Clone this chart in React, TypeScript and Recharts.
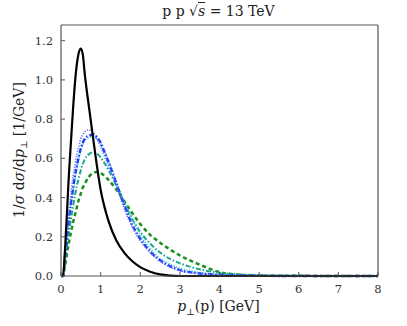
import { LineChart, Line, XAxis, YAxis } from 'recharts';

const xs = [0, 0.05, 0.1, 0.15, 0.2, 0.25, 0.3, 0.35, 0.4, 0.45, 0.5, 0.55, 0.6, 0.7, 0.8, 0.9, 1.0, 1.1, 1.2, 1.4, 1.6, 1.8, 2.0, 2.25, 2.5, 2.75, 3.0, 3.5, 4.0, 4.5, 5.0, 6.0, 7.0, 8.0];

const black = [0, 0, 0.13, 0.32, 0.52, 0.68, 0.84, 0.98, 1.08, 1.14, 1.16, 1.13, 1.03, 0.87, 0.72, 0.57, 0.44, 0.35, 0.28, 0.18, 0.118, 0.075, 0.045, 0.022, 0.008, 0.002, 0, 0, 0, 0, 0, 0, 0, 0];
const blueDot = [0, 0, 0.12, 0.23, 0.33, 0.42, 0.5, 0.56, 0.62, 0.66, 0.7, 0.72, 0.735, 0.745, 0.735, 0.7, 0.66, 0.61, 0.56, 0.46, 0.34, 0.25, 0.18, 0.12, 0.075, 0.045, 0.028, 0.012, 0.005, 0.002, 0.001, 0, 0, 0];
const blueDashDot = [0, 0, 0.1, 0.2, 0.29, 0.37, 0.44, 0.51, 0.56, 0.61, 0.65, 0.68, 0.7, 0.715, 0.72, 0.71, 0.68, 0.63, 0.58, 0.47, 0.36, 0.26, 0.19, 0.125, 0.08, 0.05, 0.03, 0.013, 0.006, 0.003, 0.001, 0, 0, 0];
const cyanDot = [0, 0, 0.09, 0.19, 0.28, 0.36, 0.43, 0.49, 0.55, 0.6, 0.64, 0.67, 0.69, 0.705, 0.71, 0.7, 0.675, 0.635, 0.59, 0.48, 0.38, 0.29, 0.21, 0.14, 0.09, 0.06, 0.04, 0.018, 0.008, 0.004, 0.002, 0.001, 0, 0];
const tealDashDot = [0, 0, 0.07, 0.15, 0.22, 0.29, 0.35, 0.41, 0.46, 0.5, 0.54, 0.57, 0.595, 0.62, 0.63, 0.625, 0.605, 0.575, 0.54, 0.46, 0.37, 0.29, 0.225, 0.165, 0.12, 0.087, 0.065, 0.034, 0.017, 0.008, 0.004, 0.001, 0, 0];
const greenDash = [0, 0, 0.05, 0.11, 0.17, 0.22, 0.27, 0.31, 0.35, 0.39, 0.42, 0.45, 0.47, 0.505, 0.525, 0.53, 0.525, 0.51, 0.49, 0.44, 0.38, 0.32, 0.265, 0.21, 0.17, 0.135, 0.105, 0.058, 0.02, 0.006, 0.002, 0.001, 0, 0];

const xTicks = [0, 1, 2, 3, 4, 5, 6, 7, 8];
const yTicks = [0, 0.2, 0.4, 0.6, 0.8, 1.0, 1.2];

const data = xs.map((x, i) => ({
  x,
  black: black[i],
  blueDot: blueDot[i],
  blueDashDot: blueDashDot[i],
  cyanDot: cyanDot[i],
  tealDashDot: tealDashDot[i],
  greenDash: greenDash[i]
}));

const FONT = 'DejaVu Serif';
const FRAME = '#555';
const tickStyle = { fill: '#333', fontSize: 11.5, fontFamily: FONT, fontWeight: 300 };

export default function App() {
  return (
    <div style={{ position: 'absolute', left: 0, top: 0, width: 407, height: 326, background: '#fff', fontFamily: FONT }}>
      <LineChart width={407} height={326} data={data} margin={{ top: 25, right: 29, bottom: 20, left: 21 }} style={{ fontFamily: FONT }}>
        <XAxis
          dataKey="x"
          type="number"
          domain={[0, 8]}
          ticks={xTicks}
          tick={tickStyle}
          tickSize={-4}
          tickMargin={13}
          height={30}
          axisLine={{ stroke: FRAME, strokeWidth: 1.2 }}
          tickLine={{ stroke: FRAME }}
        />
        <XAxis
          xAxisId="top"
          dataKey="x"
          type="number"
          orientation="top"
          mirror
          domain={[0, 8]}
          ticks={xTicks}
          tick={false}
          tickSize={4}
          axisLine={{ stroke: FRAME, strokeWidth: 1.2 }}
          tickLine={{ stroke: FRAME }}
        />
        <YAxis
          type="number"
          domain={[0, 1.28]}
          ticks={yTicks}
          tickFormatter={(v: number) => v.toFixed(1)}
          tick={tickStyle}
          tickSize={-4}
          tickMargin={12}
          width={40}
          axisLine={{ stroke: FRAME, strokeWidth: 1.2 }}
          tickLine={{ stroke: FRAME }}
        />
        <YAxis
          yAxisId="right"
          type="number"
          orientation="right"
          mirror
          domain={[0, 1.28]}
          ticks={yTicks}
          tick={false}
          tickSize={4}
          axisLine={{ stroke: FRAME, strokeWidth: 1.2 }}
          tickLine={{ stroke: FRAME }}
        />
        <Line type="monotone" dataKey="greenDash" stroke="#1a8f1a" strokeWidth={2.5} strokeDasharray="4 3" dot={false} isAnimationActive={false} />
        <Line type="monotone" dataKey="tealDashDot" stroke="#17a58c" strokeWidth={2} strokeDasharray="5 2 1.5 2" dot={false} isAnimationActive={false} />
        <Line type="monotone" dataKey="cyanDot" stroke="#33c8cc" strokeWidth={1.6} strokeDasharray="1.2 1.5" dot={false} isAnimationActive={false} />
        <Line type="monotone" dataKey="blueDashDot" stroke="#1f3fff" strokeWidth={2.4} strokeDasharray="5 2 1.5 2" dot={false} isAnimationActive={false} />
        <Line type="monotone" dataKey="blueDot" stroke="#6a6aff" strokeWidth={1.6} strokeDasharray="1.2 1.5" dot={false} isAnimationActive={false} />
        <Line type="monotone" dataKey="black" stroke="#000" strokeWidth={2.2} dot={false} isAnimationActive={false} />
      </LineChart>
      <div style={{ position: 'absolute', left: 0, width: 437, top: 3, textAlign: 'center', fontSize: 14, color: '#222' }}>
        p p √<span style={{ fontStyle: 'italic', textDecoration: 'overline' }}>s</span> = 13 TeV
      </div>
      <div style={{ position: 'absolute', left: 0, width: 437, top: 298, textAlign: 'center', fontSize: 14, color: '#222' }}>
        <i>p</i><sub style={{ fontSize: 9 }}>⊥</sub>(p) [GeV]
      </div>
      <div
        style={{
          position: 'absolute',
          left: 20,
          top: 150,
          transform: 'translate(-50%, -50%) rotate(-90deg)',
          whiteSpace: 'nowrap',
          fontSize: 14,
          color: '#222'
        }}
      >
        1/<i>σ</i> d<i>σ</i>/d<i>p</i><sub style={{ fontSize: 9 }}>⊥</sub> [1/GeV]
      </div>
    </div>
  );
}
